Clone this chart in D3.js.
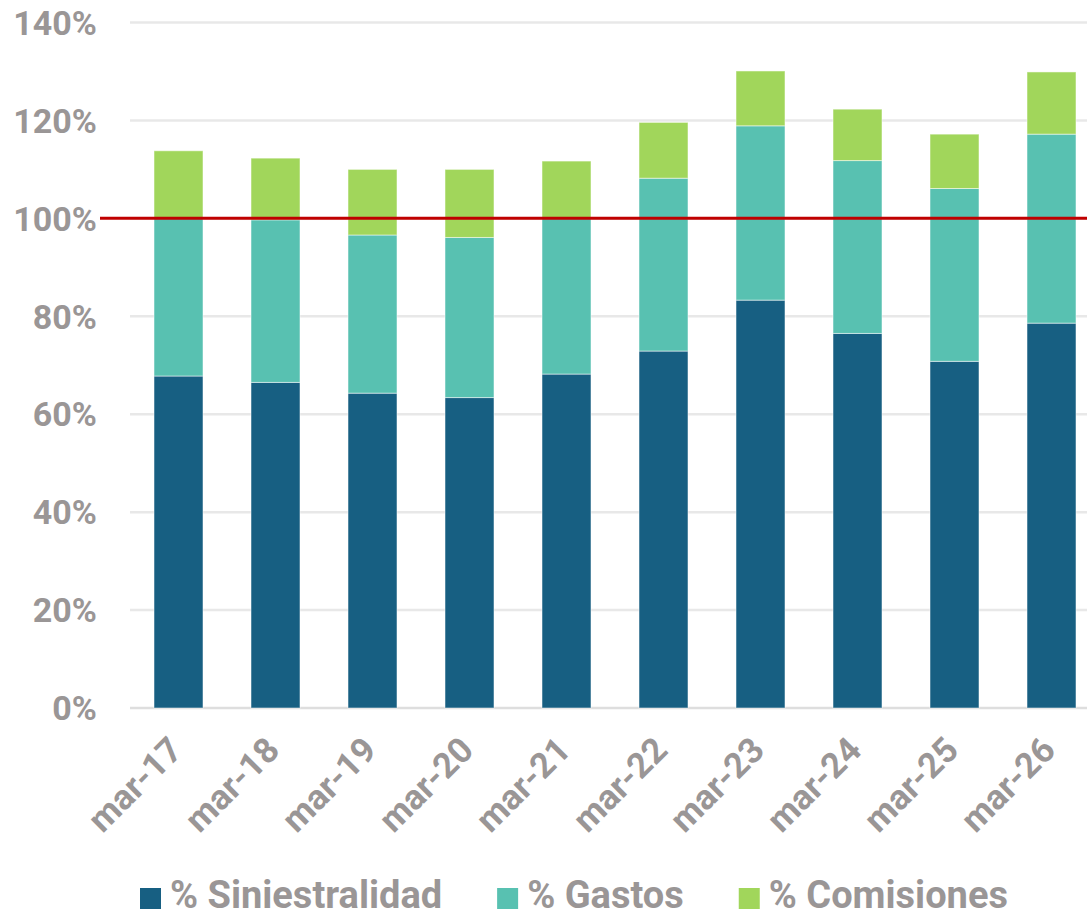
<!DOCTYPE html>
<html>
<head>
<meta charset="utf-8">
<script src="https://cdn.jsdelivr.net/npm/d3@7"></script>
<style>
  body { margin: 0; background: #fff; }
  text { font-family: Roboto, "Noto Sans", sans-serif; font-weight: bold; fill: #9a9696; }
</style>
</head>
<body>
<div id="chart"></div>
<script>
var width = 1087,
	height = 918;

// datos
var periodos = ["mar-17","mar-18","mar-19","mar-20","mar-21","mar-22","mar-23","mar-24","mar-25","mar-26"];
var siniestralidad = [67.8, 66.5, 64.3, 63.4, 68.2, 72.9, 83.3, 76.5, 70.8, 78.6];
var gastos = [32.3, 33.2, 32.3, 32.7, 31.8, 35.3, 35.6, 35.3, 35.3, 38.6];
var comisiones = [13.7, 12.6, 13.4, 13.9, 11.7, 11.4, 11.2, 10.5, 11.1, 12.7];
var yTicks = [0, 20, 40, 60, 80, 100, 120, 140];
var series = ["% Siniestralidad", "% Gastos", "% Comisiones"];
var colores = ["#175f82", "#58c1b1", "#a1d65b"];
var referencia = 100;

var svg = d3.select("#chart").append("svg")
	.attr("width", width)
	.attr("height", height);

var x = d3.scaleBand()
	.domain(periodos)
	.range([130, 1100])
	.paddingInner(0.495)
	.paddingOuter(0.2475);

var y = d3.scaleLinear()
	.domain([0, 140])
	.range([708, 22.5]);

// tabla para el stack
var tabla = periodos.map(function(p, i){
	return { periodo: p, s: siniestralidad[i], g: gastos[i], c: comisiones[i] };
});
var stack = d3.stack().keys(["s","g","c"])(tabla);

// rejilla
svg.append("g").selectAll("line")
	.data(yTicks)
	.enter()
	.append("line")
	.attr("x1", 130)
	.attr("x2", width)
	.attr("y1", function(d){ return y(d); })
	.attr("y2", function(d){ return y(d); })
	.attr("stroke", function(d){ return d === 0 ? "#dedede" : "#e8e8e8"; })
	.attr("stroke-width", 2.5);

// etiquetas eje y
svg.append("g").selectAll("text")
	.data(yTicks)
	.enter()
	.append("text")
	.attr("x", 97)
	.attr("y", function(d){ return y(d); })
	.attr("dy", "0.36em")
	.attr("text-anchor", "end")
	.style("font-size", "34px")
	.text(function(d){ return d + "%"; });

// barras apiladas
svg.append("g").selectAll("g")
	.data(stack)
	.enter()
	.append("g")
	.attr("fill", function(d, i){ return colores[i]; })
	.selectAll("rect")
	.data(function(d){ return d; })
	.enter()
	.append("rect")
	.attr("x", function(d){ return x(d.data.periodo); })
	.attr("width", x.bandwidth())
	.attr("y", function(d){ return y(d[1]); })
	.attr("height", function(d){ return y(d[0]) - y(d[1]); })
	.attr("stroke", "#ffffff")
	.attr("stroke-opacity", 0.5)
	.attr("stroke-width", 1);

// linea del 100%
svg.append("line")
	.attr("x1", 100)
	.attr("x2", width)
	.attr("y1", y(referencia))
	.attr("y2", y(referencia))
	.attr("stroke", "#c00000")
	.attr("stroke-width", 3);

// etiquetas eje x
svg.append("g").selectAll("text")
	.data(periodos)
	.enter()
	.append("text")
	.attr("text-anchor", "end")
	.attr("transform", function(d){
		return "translate(" + (x(d) + x.bandwidth() / 2 + 6) + ",752) rotate(-45)";
	})
	.style("font-size", "35px")
	.text(function(d){ return d; });

// leyenda
var legend = svg.append("g");
var lx = 140;
series.forEach(function(nombre, i){
	var g = legend.append("g").attr("transform", "translate(" + lx + ",0)");
	g.append("rect")
		.attr("x", 0)
		.attr("y", 888)
		.attr("width", 21)
		.attr("height", 21)
		.attr("fill", colores[i]);
	var t = g.append("text")
		.attr("x", 30)
		.attr("y", 908)
		.style("font-size", "38px")
		.text(nombre);
	lx += 30 + t.node().getComputedTextLength() + 55;
});
</script>
</body>
</html>
